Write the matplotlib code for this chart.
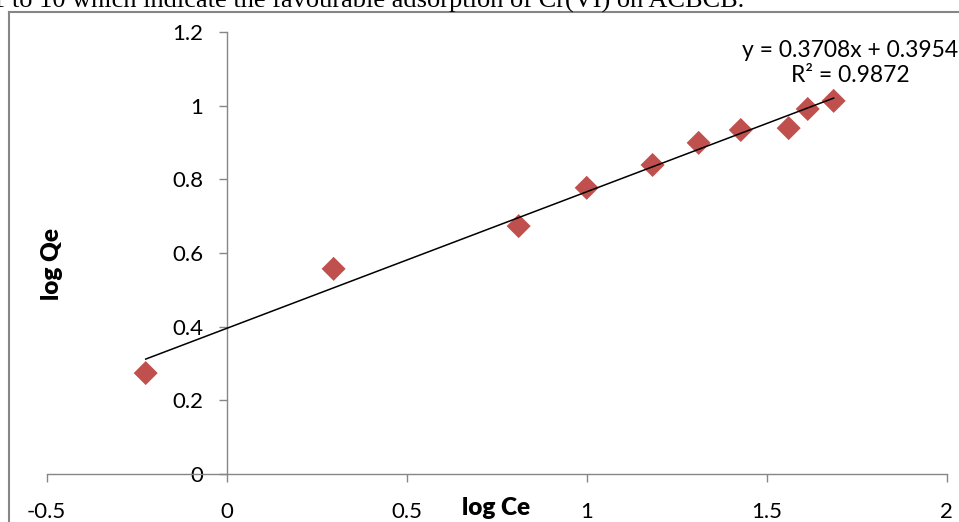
import matplotlib
matplotlib.use('Agg')
import matplotlib.pyplot as plt
from matplotlib.lines import Line2D

# ---- data ----
log_ce = [-0.225, 0.297, 0.811, 1.0, 1.183, 1.311, 1.428, 1.561, 1.614, 1.686]
log_qe = [0.274, 0.557, 0.673, 0.777, 0.839, 0.899, 0.934, 0.939, 0.991, 1.013]
slope = 0.3708
intercept = 0.3954
r2 = 0.9872
x_ticks = [-0.5, 0, 0.5, 1, 1.5, 2]
x_ticklabels = ['-0.5', '0', '0.5', '1', '1.5', '2']
y_ticks = [0, 0.2, 0.4, 0.6, 0.8, 1.0, 1.2]
y_ticklabels = ['0', '0.2', '0.4', '0.6', '0.8', '1', '1.2']
x_label = 'log Ce'
y_label = 'log Qe'
caption = '1 to 10 which indicate the favourable adsorption of Cr(VI) on ACBCB.'

W, H = 959, 522
fig = plt.figure(figsize=(W / 100, H / 100), dpi=100)
fig.patch.set_facecolor('white')

left, right = 46.7, 946.7
top, bottom = 32, 474
ax = fig.add_axes([left / W, 1 - bottom / H, (right - left) / W, (bottom - top) / H])
ax.set_facecolor('none')

FONT = 'Lato'
GRAY = '#868686'

ax.scatter(log_ce, log_qe, marker='D', s=150, color='#C0504D', edgecolors='none', zorder=3)
xmin, xmax = min(log_ce), max(log_ce)
ax.plot([xmin, xmax], [slope * xmin + intercept, slope * xmax + intercept],
        color='black', lw=1.1, zorder=4)

ax.set_xlim(-0.5, 2)
ax.set_ylim(0, 1.2)
ax.set_xticks(x_ticks)
ax.set_xticklabels(x_ticklabels)
ax.set_yticks(y_ticks)
ax.set_yticklabels(y_ticklabels)

for s in ['top', 'right']:
    ax.spines[s].set_visible(False)
ax.spines['left'].set_position(('data', 0))
ax.spines['bottom'].set_position(('data', 0))
for s in ['left', 'bottom']:
    ax.spines[s].set_color(GRAY)
    ax.spines[s].set_linewidth(1.0)

ax.tick_params(axis='y', direction='out', length=6, width=1, color=GRAY, pad=11,
               labelcolor='black', labelsize=16, labelfontfamily=FONT)
ax.tick_params(axis='x', direction='out', length=6, width=1, color=GRAY, pad=14,
               labelcolor='black', labelsize=16, labelfontfamily=FONT)

ax.set_xlabel(x_label, family=FONT, fontsize=17.5, fontweight='heavy')
ax.xaxis.set_label_coords(0.499, -0.077)
ax.xaxis.label.set_va('center')
ax.set_ylabel(y_label, family=FONT, fontsize=17.5, fontweight='heavy')
ax.yaxis.set_label_coords(0.006, 0.475)
ax.yaxis.label.set_va('center')

ax.text(850 / W, 1 - 63 / H, f'y = {slope:.4f}x + {intercept:.4f}\nR² = {r2:.4f}',
        transform=fig.transFigure, ha='center', va='center', family=FONT, fontsize=16.5,
        linespacing=1.2, multialignment='center')

# chart-area border (left and top)
fig.add_artist(Line2D([9 / W, 9 / W], [0, 1 - 12 / H], transform=fig.transFigure, color=GRAY, lw=1.5))
fig.add_artist(Line2D([9 / W, 1], [1 - 12 / H, 1 - 12 / H], transform=fig.transFigure, color=GRAY, lw=1.5))

# cut-off caption text above the chart
fig.text(-8 / W, 1 - 8 / H, caption, va='baseline', ha='left', family='Liberation Serif', fontsize=19)

fig.savefig('out.png', dpi=100)
